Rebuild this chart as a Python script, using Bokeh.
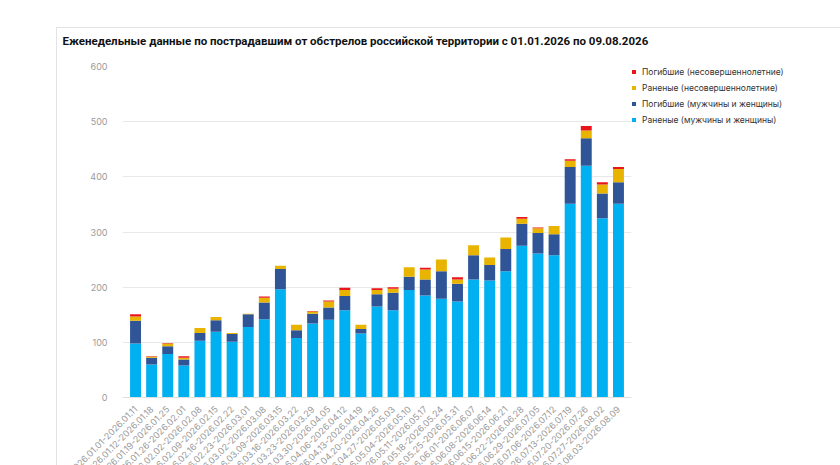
import math
from bokeh.plotting import figure
from bokeh.models import ColumnDataSource, Legend, LegendItem, Title, Column
from bokeh.embed import file_html
from bokeh.resources import INLINE

weeks = [
    "2026.01.01-2026.01.11", "2026.01.12-2026.01.18", "2026.01.19-2026.01.25",
    "2026.01.26-2026.02.01", "2026.02.02-2026.02.08", "2026.02.09-2026.02.15",
    "2026.02.16-2026.02.22", "2026.02.23-2026.03.01", "2026.03.02-2026.03.08",
    "2026.03.09-2026.03.15", "2026.03.16-2026.03.22", "2026.03.23-2026.03.29",
    "2026.03.30-2026.04.05", "2026.04.06-2026.04.12", "2026.04.13-2026.04.19",
    "2026.04.20-2026.04.26", "2026.04.27-2026.05.03", "2026.05.04-2026.05.10",
    "2026.05.11-2026.05.17", "2026.05.18-2026.05.24", "2026.05.25-2026.05.31",
    "2026.06.01-2026.06.07", "2026.06.08-2026.06.14", "2026.06.15-2026.06.21",
    "2026.06.22-2026.06.28", "2026.06.29-2026.07.05", "2026.07.06-2026.07.12",
    "2026.07.13-2026.07.19", "2026.07.20-2026.07.26", "2026.07.27-2026.08.02",
    "2026.08.03-2026.08.09",
]

# Раненые (мужчины и женщины)
wounded_adults = [98, 60, 79, 58, 103, 119, 101, 128, 142, 196, 108, 134, 141, 158, 116,
                  165, 158, 195, 185, 179, 174, 214, 212, 229, 275, 261, 258, 351, 420, 325, 351]
# Погибшие (мужчины и женщины)
killed_adults = [41, 12, 14, 11, 14, 21, 14, 23, 30, 37, 14, 18, 22, 26, 8,
                 22, 32, 24, 29, 50, 32, 44, 28, 40, 40, 37, 38, 67, 50, 45, 39]
# Раненые (несовершеннолетние)
wounded_minors = [8, 2, 5, 3, 9, 6, 2, 1, 9, 6, 10, 4, 11, 11, 8,
                  8, 7, 17, 18, 21, 8, 18, 14, 21, 9, 9, 15, 11, 14, 16, 24]
# Погибшие (несовершеннолетние)
killed_minors = [4, 1, 1, 3, 0, 0, 0, 0, 2, 0, 0, 1, 2, 4, 0,
                 3, 3, 0, 3, 0, 4, 0, 0, 0, 3, 1, 0, 3, 8, 4, 4]

series = ["wa", "ka", "wm", "km"]
labels = ["Раненые (мужчины и женщины)", "Погибшие (мужчины и женщины)",
          "Раненые (несовершеннолетние)", "Погибшие (несовершеннолетние)"]
colors = ["#00b0f0", "#2f5597", "#e8b400", "#e8161b"]

source = ColumnDataSource(data=dict(week=weeks, wa=wounded_adults, ka=killed_adults,
                                    wm=wounded_minors, km=killed_minors))

p = figure(x_range=weeks, y_range=(0, 600), frame_width=509, frame_height=331,
           output_backend="svg", toolbar_location=None,
           min_border_left=65, min_border_right=171, min_border_top=0,
           title="Еженедельные данные по пострадавшим от обстрелов российской территории с 01.01.2026 по 09.08.2026")

renderers = p.vbar_stack(series, x="week", width=0.68, color=colors, line_color=None,
                         source=source)

p.title.text_font = "Roboto"
p.title.text_font_size = "11.5px"
p.title.text_font_style = "bold"
p.title.text_color = "#111111"
p.title.align = "left"
p.title.offset = -60
p.title.standoff = 6

spacer = Title(text=" ", text_font_size="1px", standoff=13)
p.add_layout(spacer, "above")

p.outline_line_color = None
p.background_fill_color = "white"
p.border_fill_color = "white"

p.xgrid.grid_line_color = None
p.ygrid.grid_line_color = "#e8e8e8"
p.ygrid.grid_line_width = 1

p.yaxis.ticker = [0, 100, 200, 300, 400, 500, 600]
p.yaxis.axis_line_color = None
p.yaxis.major_tick_line_color = None
p.yaxis.minor_tick_line_color = None
p.yaxis.major_label_text_font = "Inter"
p.yaxis.major_label_text_font_size = "9px"
p.yaxis.major_label_text_color = "#9a9a9a"
p.yaxis.major_label_standoff = 9

p.xaxis.axis_line_color = "#e0e0e0"
p.xaxis.major_tick_line_color = None
p.xaxis.minor_tick_line_color = None
p.xaxis.major_label_orientation = math.pi / 4
p.xaxis.major_label_text_font = "Inter"
p.xaxis.major_label_text_font_size = "9px"
p.xaxis.major_label_text_color = "#9a9a9a"
p.xaxis.major_label_standoff = 4
p.x_range.range_padding = 0.02

items = [LegendItem(label=labels[i], renderers=[renderers[i]]) for i in [3, 2, 1, 0]]
legend = Legend(items=items, location="top_left", orientation="vertical",
                glyph_width=5, glyph_height=5, label_height=11, spacing=5,
                label_standoff=6, padding=12, margin=0,
                border_line_color=None, background_fill_alpha=0,
                label_text_font="Inter", label_text_font_size="8.5px",
                label_text_color="#333333")
p.add_layout(legend, "right")

card = Column(children=[p], margin=(27, 0, 0, 56),
              styles={"border-top": "1px solid #e3e3e3", "border-left": "1px solid #e3e3e3",
                      "border-right": "1px solid #e3e3e3"})

open("out.html", "w").write(file_html(card, INLINE))
